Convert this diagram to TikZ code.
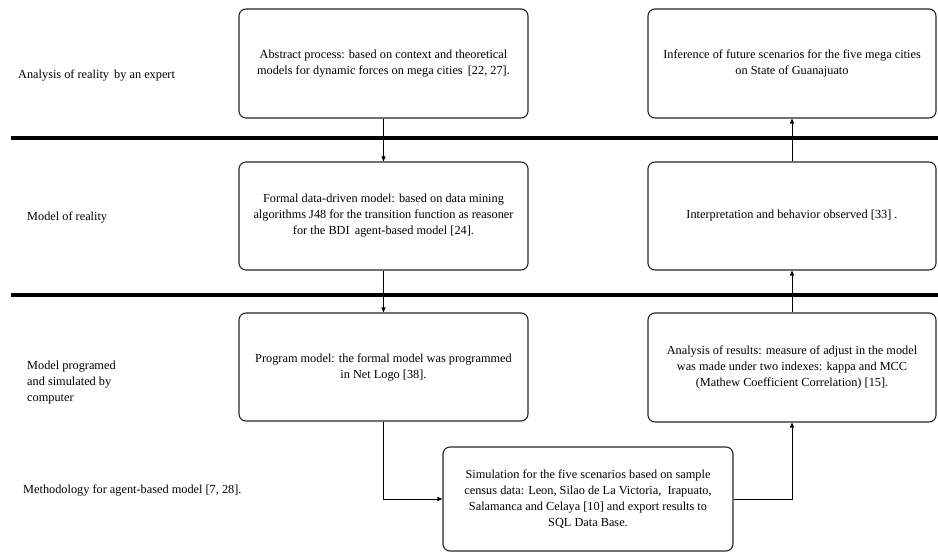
\documentclass[tikz,border=0pt]{standalone}
\usepackage{fontspec}
\setmainfont{Liberation Serif}
\usetikzlibrary{arrows.meta}
\begin{document}
\begin{tikzpicture}[x=1pt,y=-1pt,
  box/.style={draw=black!85, line width=1.1pt, rounded corners=7pt, align=center,
    font=\fontsize{12.3}{16}\selectfont, inner sep=0pt},
  lbl/.style={anchor=west, align=left, font=\fontsize{12.3}{16}\selectfont, inner sep=0pt},
  sep/.style={line width=3.6pt, black},
  conn/.style={line width=0.9pt, -{Triangle[length=5pt,width=4pt]}}]
\useasboundingbox (0,0) rectangle (938,554);
% separators
\draw[sep] (11,138) -- (938,138);
\draw[sep] (11,295) -- (938,295);
% boxes
\node[box, minimum width=289pt, minimum height=109pt] (A) at (383.5,63.5)
  {Abstract process: based on context and theoretical\\models for dynamic forces on mega cities \,[22, 27].};
\node[box, minimum width=289pt, minimum height=108pt] (B) at (383.5,216)
  {Formal data-driven model: based on data mining\\algorithms J48 for the transition function as reasoner\\for the BDI \,agent-based model [24].};
\node[box, minimum width=289pt, minimum height=108pt] (C) at (383.5,367)
  {Program model: the formal model was programmed\\in Net Logo [38].};
\node[box, minimum width=288pt, minimum height=109pt] (D) at (792,63.5)
  {Inference of future scenarios for the five mega cities\\on State of Guanajuato};
\node[box, minimum width=288pt, minimum height=108pt] (E) at (792,216)
  {Interpretation and behavior observed [33] .};
\node[box, minimum width=288pt, minimum height=109pt] (F) at (792,367.5)
  {Analysis of results: measure of adjust in the model\\was made under two indexes: kappa and MCC\\(Mathew Coefficient Correlation) [15].};
\node[box, minimum width=290pt, minimum height=104pt] (G) at (588,499)
  {Simulation for the five scenarios based on sample\\census data: Leon, Silao de La Victoria, \ Irapuato,\\Salamanca and Celaya [10] and export results to\\SQL Data Base.};
% labels
\node[lbl] (L1) at (18,75) {Analysis of reality \,by an expert};
\node[lbl] (L2) at (27,217) {Model of reality};
\node[lbl] (L3) at (27,383) {Model programed\\and simulated by\\computer};
\node[lbl] (L4) at (23,490) {Methodology for agent-based model [7, 28].};
% connectors
\draw[conn] (A.south) -- (B.north);
\draw[conn] (B.south) -- (C.north);
\draw[conn] (C.south) |- (G.west);
\draw[conn] (G.east) -| (F.south);
\draw[conn] (F.north) -- (E.south);
\draw[conn] (E.north) -- (D.south);
\end{tikzpicture}
\end{document}
